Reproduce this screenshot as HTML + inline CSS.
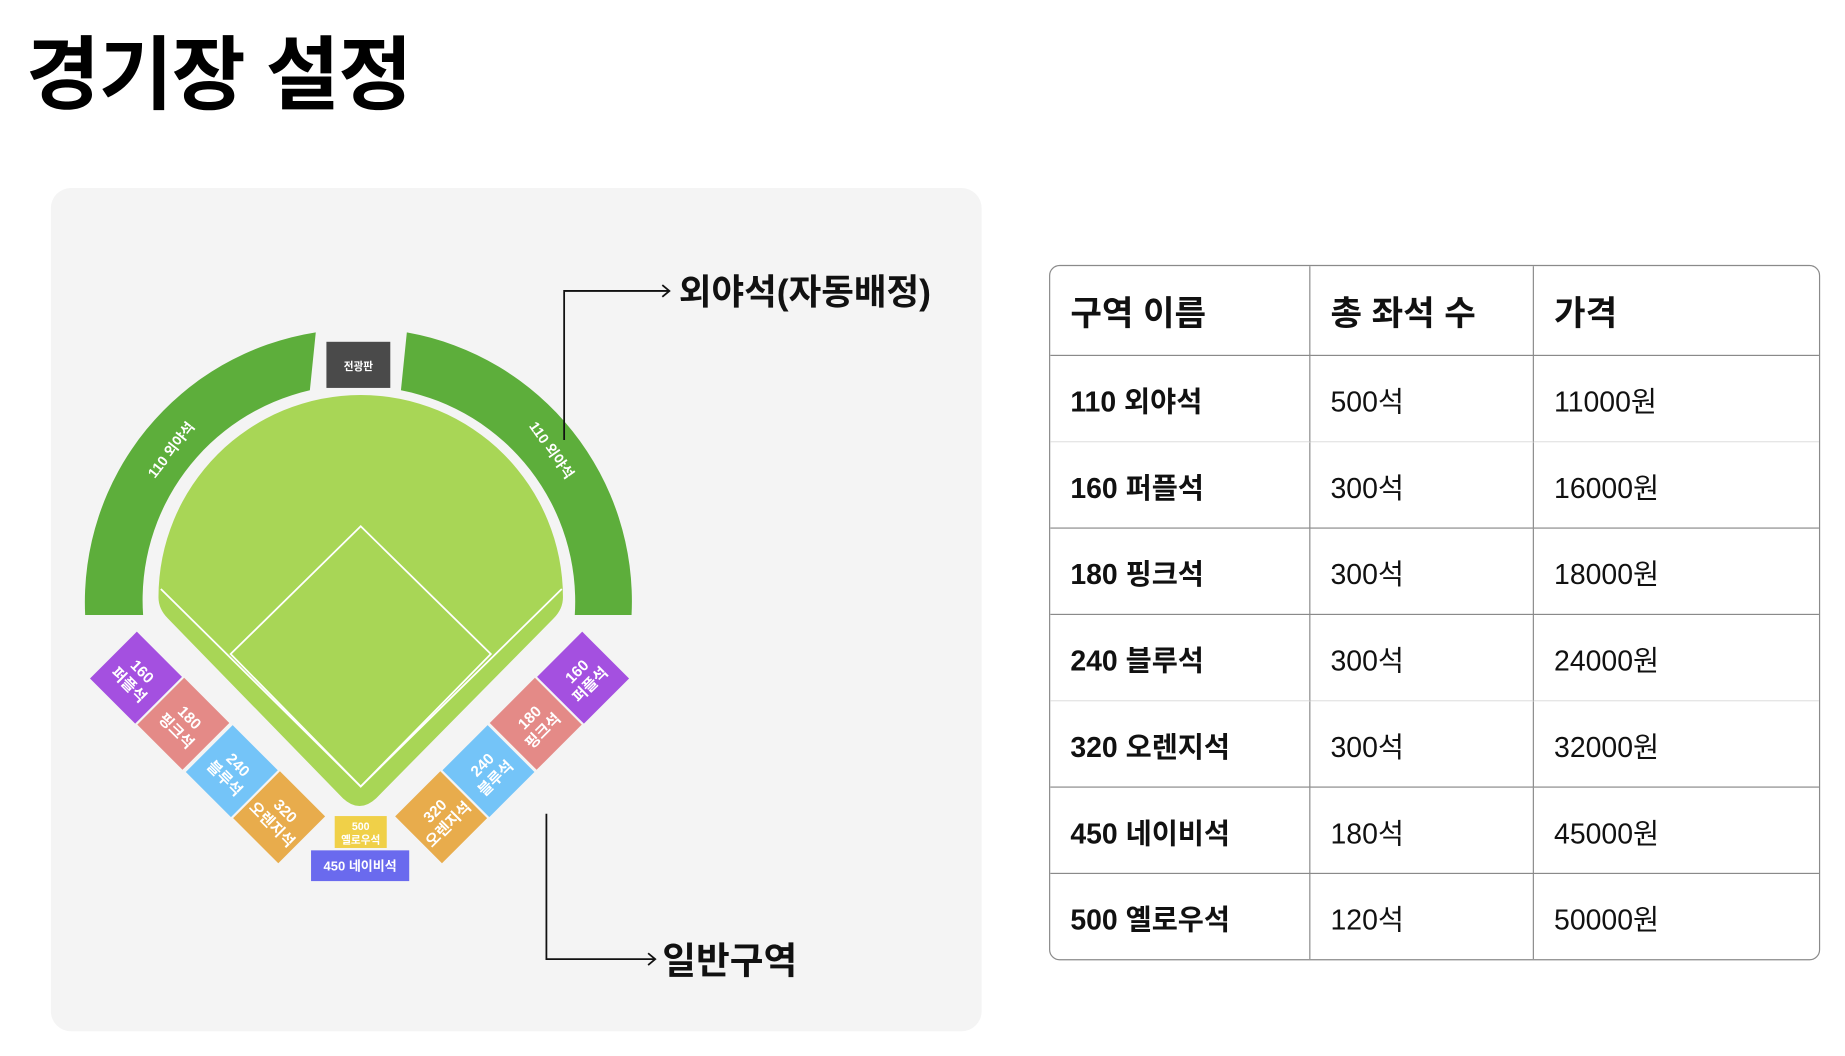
<!DOCTYPE html>
<html><head><meta charset="utf-8">
<style>
html,body{margin:0;padding:0;background:#fff;width:1845px;height:1056px;overflow:hidden}
#wrap{position:absolute;left:0;top:0;width:1560px;height:893px;transform:scale(1.18269);transform-origin:0 0;font-family:"Liberation Sans","Noto Sans CJK KR",sans-serif}
h1{position:absolute;left:22px;top:8px;margin:0;font-size:68px;font-weight:bold;letter-spacing:-1px}
#panel{position:absolute;left:43px;top:159px;width:787px;height:713px;background:#f4f4f4;border-radius:17px}
table{position:absolute;left:887px;top:224px;width:652px;border-collapse:separate;border-spacing:0;border:1px solid #8a8a8a;border-radius:9px;overflow:hidden}
td,th{height:72px;padding:0 0 0 17px;text-align:left;font-size:24px;border-right:1px solid #8a8a8a;border-bottom:1px solid #8a8a8a;color:#111}
th{font-size:29px;font-weight:bold;height:75px}
tr td:last-child,tr th:last-child{border-right:none}
tr:last-child td{border-bottom:none}
td:first-child{font-weight:bold}
tr.l td{border-bottom-color:#e2e2e2}
</style></head><body>
<div id="wrap">
<h1>경기장 설정</h1>
<div id="panel"></div>
<svg style="position:absolute;left:0;top:0" width="1560" height="893" viewBox="0 0 1560 893" font-family="Liberation Sans, Noto Sans CJK KR, sans-serif">
  <path fill="#5dae3b" d="M72,520 A231,231 0 0 1 267,281 L262,330 A182,182 0 0 0 121,520 Z"/>
  <path fill="#5dae3b" d="M534,520 A231,231 0 0 0 344,281 L339,330 A182,182 0 0 1 486,520 Z"/>
  <rect x="276" y="289" width="54" height="39" fill="#4a4a4a"/>
  <text x="303" y="313" fill="#fff" font-size="9" font-weight="bold" text-anchor="middle">전광판</text>
  <text transform="translate(148,383) rotate(-52)" fill="#fff" font-size="12" font-weight="bold" text-anchor="middle">110 외야석</text>
  <text transform="translate(463,383) rotate(55)" fill="#fff" font-size="12" font-weight="bold" text-anchor="middle">110 외야석</text>
  <path fill="#a8d656" d="M134,505 A171,171 0 0 1 476,505 Q476,515 468,523 L318,675 Q304,688 290,675 L142,523 Q134,515 134,505 Z"/>
  <g stroke="#fff" stroke-width="1.5" fill="none">
    <path d="M305,445 L415,553 L305,665 L195,553 Z"/>
    <path d="M136,498 L305,665 L475,498"/>
  </g>
  <g font-weight="bold" fill="#fff" text-anchor="middle">
    <g transform="translate(115,573) rotate(45)"><rect x="-27" y="-28" width="54" height="56" fill="#a450e0"/><text y="-3" font-size="13" fill="#fff">160</text><text y="13" font-size="13" fill="#fff">퍼플석</text></g>
    <g transform="translate(155,612) rotate(45)"><rect x="-27" y="-28" width="54" height="56" fill="#e48a87"/><text y="-3" font-size="13" fill="#fff">180</text><text y="13" font-size="13" fill="#fff">핑크석</text></g>
    <g transform="translate(196,652) rotate(45)"><rect x="-27" y="-28" width="54" height="56" fill="#74c4f8"/><text y="-3" font-size="13" fill="#fff">240</text><text y="13" font-size="13" fill="#fff">블루석</text></g>
    <g transform="translate(236,691) rotate(45)"><rect x="-27" y="-28" width="54" height="56" fill="#e8ac4c"/><text y="-3" font-size="13" fill="#fff">320</text><text y="13" font-size="13" fill="#fff">오렌지석</text></g>
    <g transform="translate(493,573) rotate(-45)"><rect x="-27" y="-28" width="54" height="56" fill="#a450e0"/><text y="-3" font-size="13" fill="#fff">160</text><text y="13" font-size="13" fill="#fff">퍼플석</text></g>
    <g transform="translate(453,612) rotate(-45)"><rect x="-27" y="-28" width="54" height="56" fill="#e48a87"/><text y="-3" font-size="13" fill="#fff">180</text><text y="13" font-size="13" fill="#fff">핑크석</text></g>
    <g transform="translate(413,652) rotate(-45)"><rect x="-27" y="-28" width="54" height="56" fill="#74c4f8"/><text y="-3" font-size="13" fill="#fff">240</text><text y="13" font-size="13" fill="#fff">블루석</text></g>
    <g transform="translate(373,691) rotate(-45)"><rect x="-27" y="-28" width="54" height="56" fill="#e8ac4c"/><text y="-3" font-size="13" fill="#fff">320</text><text y="13" font-size="13" fill="#fff">오렌지석</text></g>
    <g><rect x="283" y="690" width="44" height="27" fill="#f0d048"/><text x="305" y="702" font-size="9">500</text><text x="305" y="713" font-size="9">옐로우석</text></g>
    <g><rect x="263" y="719" width="83" height="26" fill="#6a6aee"/><text x="304.5" y="736" font-size="11">450 네이비석</text></g>
  </g>
  <g stroke="#111" stroke-width="1.5" fill="none">
    <path d="M477,372 L477,246 L566,246"/><path d="M560,241 L566,246 L560,251"/>
    <path d="M462,688 L462,811 L554,811"/><path d="M548,806 L554,811 L548,816"/>
  </g>
  <text x="574" y="257" font-size="30" font-weight="bold" fill="#111">외야석(자동배정)</text>
  <text x="560" y="823" font-size="31" font-weight="bold" fill="#111">일반구역</text>
</svg>
<table>
<tr><th style="width:202px">구역 이름</th><th style="width:171px">총 좌석 수</th><th>가격</th></tr>
<tr class="l"><td>110 외야석</td><td>500석</td><td>11000원</td></tr>
<tr><td>160 퍼플석</td><td>300석</td><td>16000원</td></tr>
<tr><td>180 핑크석</td><td>300석</td><td>18000원</td></tr>
<tr class="l"><td>240 블루석</td><td>300석</td><td>24000원</td></tr>
<tr><td>320 오렌지석</td><td>300석</td><td>32000원</td></tr>
<tr><td>450 네이비석</td><td>180석</td><td>45000원</td></tr>
<tr><td>500 옐로우석</td><td>120석</td><td>50000원</td></tr>
</table>
</div>
</body></html>
